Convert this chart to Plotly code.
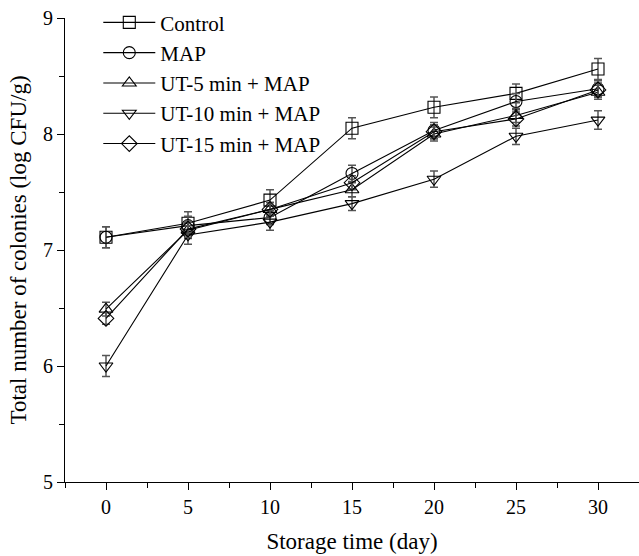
import plotly.graph_objects as go

days = [0, 5, 10, 15, 20, 25, 30]
series_names = ["Control", "MAP", "UT-5 min + MAP", "UT-10 min + MAP", "UT-15 min + MAP"]
control = [7.11, 7.23, 7.43, 8.05, 8.23, 8.35, 8.56]
map_only = [7.11, 7.21, 7.28, 7.66, 8.03, 8.28, 8.39]
ut5 = [6.49, 7.17, 7.35, 7.52, 8.00, 8.16, 8.36]
ut10 = [6.00, 7.13, 7.24, 7.40, 7.61, 7.98, 8.12]
ut15 = [6.41, 7.18, 7.35, 7.58, 8.02, 8.13, 8.38]
control_err = [0.09, 0.10, 0.09, 0.09, 0.09, 0.08, 0.09]
map_err = [0.09, 0.08, 0.06, 0.07, 0.07, 0.07, 0.07]
ut5_err = [0.06, 0.07, 0.06, 0.06, 0.06, 0.06, 0.06]
ut10_err = [0.09, 0.08, 0.07, 0.06, 0.07, 0.07, 0.08]
ut15_err = [0.05, 0.07, 0.06, 0.06, 0.06, 0.06, 0.06]
symbols = ["square-open", "circle-open", "triangle-up-open", "triangle-down-open", "diamond-open"]

values = [control, map_only, ut5, ut10, ut15]
errors = [control_err, map_err, ut5_err, ut10_err, ut15_err]

fig = go.Figure()
for name, v, e, s in zip(series_names, values, errors, symbols):
    fig.add_trace(go.Scatter(
        x=days, y=v, name=name, mode="lines+markers",
        line=dict(color="black", width=1.1),
        marker=dict(symbol=s, size=12, color="black", line=dict(width=1.1)),
        error_y=dict(type="data", array=e, visible=True, color="#555555", thickness=1.5, width=4),
    ))

font = "Liberation Serif, Times New Roman, serif"
fig.update_layout(
    width=639, height=556,
    margin=dict(l=65, r=0, t=18, b=74),
    plot_bgcolor="white", paper_bgcolor="white",
    font=dict(family=font, size=20, color="black"),
    showlegend=True,
    legend=dict(x=0.058, y=1.034, xanchor="left", yanchor="top", bgcolor="rgba(0,0,0,0)",
                font=dict(size=21, family=font), itemwidth=52, tracegroupgap=0),
    xaxis=dict(range=[-2.5, 32.5], tickvals=[0, 5, 10, 15, 20, 25, 30],
               ticks="outside", ticklen=7, tickcolor="black", showline=True, linecolor="black",
               linewidth=1.2, showgrid=False, zeroline=False,
               minor=dict(tickvals=[-2.5, 2.5, 7.5, 12.5, 17.5, 22.5, 27.5, 32.5], ticks="outside",
                          ticklen=5, tickcolor="black"),
               title=dict(text="Storage time (day)", font=dict(size=23), standoff=15),
               tickfont=dict(size=20)),
    yaxis=dict(range=[5, 9], tickvals=[5, 6, 7, 8, 9],
               ticks="outside", ticklen=7, tickcolor="black", showline=True, linecolor="black",
               linewidth=1.2, showgrid=False, zeroline=False,
               minor=dict(tickvals=[5.5, 6.5, 7.5, 8.5], ticks="outside", ticklen=5, tickcolor="black"),
               title=dict(text="Total number of colonies (log CFU/g)", font=dict(size=23), standoff=9),
               tickfont=dict(size=20)),
)
fig.write_html("out.html")
